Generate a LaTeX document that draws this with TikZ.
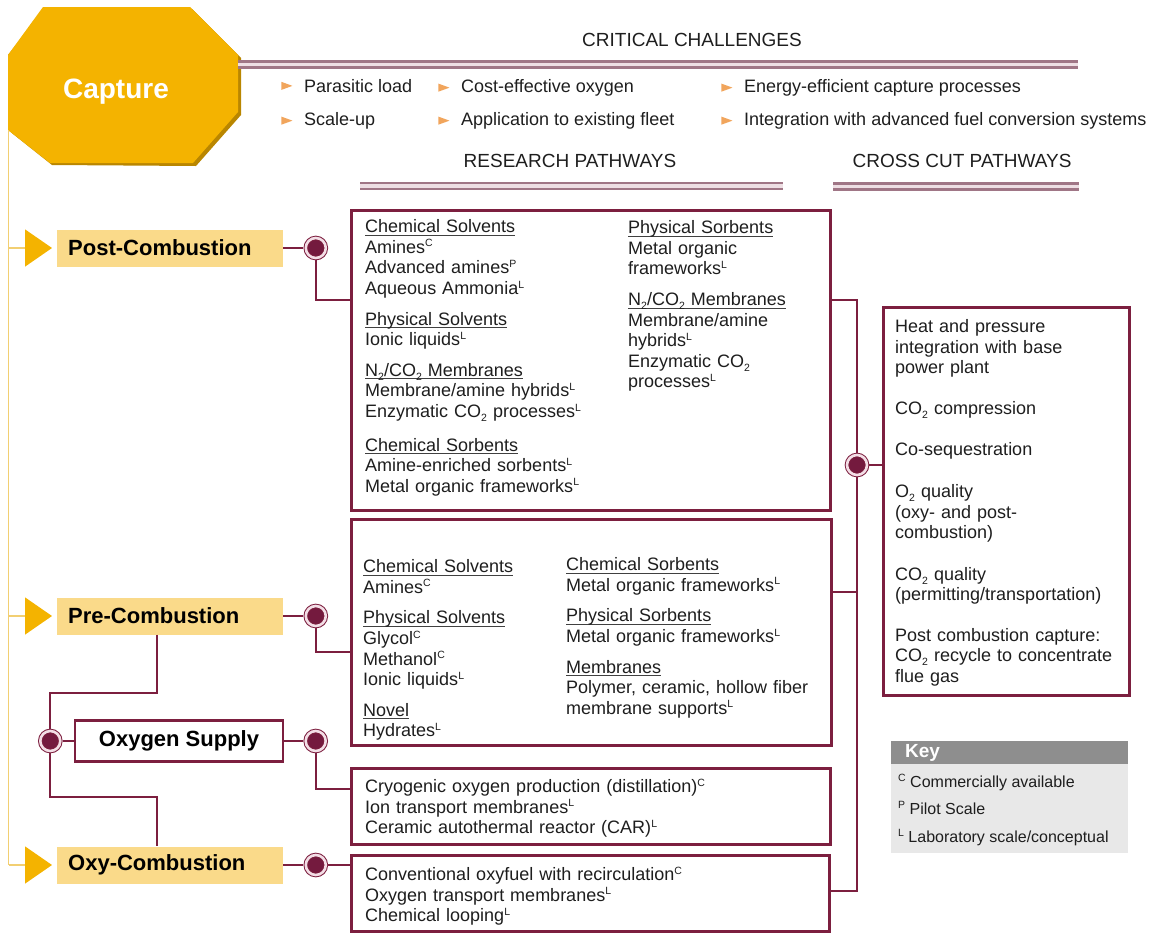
\documentclass[tikz,border=0pt]{standalone}
\usepackage{fontspec}
\setmainfont{Liberation Sans}
\usetikzlibrary{positioning,shapes.geometric,arrows.meta}

\definecolor{capgold}{HTML}{F4B300}
\definecolor{capshadow}{HTML}{B98600}
\definecolor{labelgold}{HTML}{FADA8A}
\definecolor{spinegold}{HTML}{F2CF72}
\definecolor{maroon}{HTML}{7C1F3F}
\definecolor{hubfill}{HTML}{741A3E}
\definecolor{ringpink}{HTML}{F3DEE6}
\definecolor{rulemauve}{HTML}{A07686}
\definecolor{rulepink}{HTML}{EEDFE4}
\definecolor{bulletorange}{HTML}{F1A55C}
\definecolor{keygray}{HTML}{8E8E8E}
\definecolor{keylight}{HTML}{E8E8E8}
\definecolor{ink}{HTML}{1E1E1E}

\newcommand{\bodyfont}{\fontsize{18}{20.6}\selectfont}
\newcommand{\mk}[1]{\raisebox{0.36em}{\fontsize{10.5}{10.5}\selectfont #1}}
\newcommand{\two}{\raisebox{-0.22em}{\fontsize{10.5}{10.5}\selectfont 2}}
\newcommand{\ul}[1]{\leavevmode\setbox0\hbox{#1}\rlap{\color{ink!85}\rule[-3pt]{\wd0}{0.9pt}}\box0}

\begin{document}
\begin{tikzpicture}[x=1pt,y=-1pt,
	hub/.style={circle,fill=hubfill,draw=maroon,line width=1pt,double=ringpink,double distance=2.6pt,minimum size=20pt,inner sep=0pt,outer sep=2.4pt},
	link/.style={draw=maroon,line width=2.2pt},
	pathbox/.style={draw=maroon,line width=2.6pt,fill=white,inner sep=0pt,anchor=north west},
	stage/.style={fill=labelgold,anchor=west,font=\bfseries\fontsize{22}{24}\selectfont,text width=204pt,inner xsep=11pt,inner ysep=0pt,minimum height=37pt,align=left,text=black},
	supply/.style={draw=maroon,line width=2.6pt,fill=white,minimum width=208pt,minimum height=41pt,inner sep=0pt,font=\bfseries\fontsize{22}{24}\selectfont,text=black},
	txtcol/.style={anchor=north west,inner sep=0pt,align=left,font=\bodyfont,text=ink},
	heading/.style={font=\fontsize{19}{21}\selectfont,text=ink,inner sep=0pt},
	chitem/.style={anchor=base west,inner sep=0pt,font=\bodyfont,text=ink},
	chbullet/.style={isosceles triangle,isosceles triangle stretches,minimum width=8pt,minimum height=11pt,inner sep=0pt,fill=bulletorange},
	rule/.style={draw=rulemauve,line width=2.4pt,double=rulepink,double distance=3.6pt},
	spine/.style={draw=spinegold,line width=1.5pt},
	feed/.style={spine,-{Triangle[length=27pt,width=37pt,color=capgold]},shorten >=5pt},
	keyhead/.style={anchor=north west,fill=keygray,minimum width=237pt,minimum height=23pt,text width=209pt,inner xsep=14pt,inner ysep=0pt,align=left,text=white,font=\bfseries\fontsize{19}{19}\selectfont},
	keybody/.style={anchor=north west,fill=keylight,minimum width=237pt,minimum height=89pt,inner sep=0pt},
	keyitem/.style={anchor=base west,inner sep=0pt,font=\fontsize{16}{18}\selectfont,text=ink}]
	\useasboundingbox (0,0) rectangle (1151,932);

	\fill[capshadow] (45,8) -- (192,9) -- (241,58) -- (241,115) -- (196,166) -- (52,165) -- (8,130) -- (8,55) -- cycle;
	\fill[capgold] (43,7) -- (190,7) -- (238,55) -- (238,112) -- (193,163) -- (50,163) -- (8,130) -- (8,55) -- cycle;
	\node[anchor=base,text=white,font=\bfseries\fontsize{28}{30}\selectfont] (capture) at (116,98) {Capture};

	\node[heading] (crit) at (692,40) {CRITICAL CHALLENGES};
	\node[heading] (research) at (570,161) {RESEARCH PATHWAYS};
	\node[heading] (crosscut) at (962,161) {CROSS CUT PATHWAYS};
	\draw[rule] (238,64.5) -- (1078,64.5);
	\draw[rule] (360,186) -- (783,186);
	\draw[rule] (833,186.5) -- (1079,186.5);

	\node[chitem] (parasitic) at (304,92.3) {Parasitic load};
	\node[chitem] (costoxy) at (461,92.3) {Cost-effective oxygen};
	\node[chitem] (energy) at (744,92.3) {Energy-efficient capture processes};
	\node[chitem] (scaleup) at (304,125.3) {Scale-up};
	\node[chitem] (fleet) at (461,125.3) {Application to existing fleet};
	\node[chitem] (integration) at (744,125.3) {Integration with advanced fuel conversion systems};
	\foreach \c in {parasitic,costoxy,energy,scaleup,fleet,integration}
		\node[chbullet,left=11pt of \c] (b\c) {};

	\node[stage] (post) at (57,248) {Post-Combustion};
	\node[stage] (pre) at (57,616) {Pre-Combustion};
	\node[stage] (oxy) at (57,865) {Oxy-Combustion};
	\node[supply] (oxs) at (179,741) {Oxygen Supply};

	\coordinate (spineTop) at (8.5,130);
	\coordinate (spinePost) at (8.5,248);
	\coordinate (spinePre) at (8.5,616);
	\coordinate (spineOxy) at (8.5,865);
	\draw[spine] (spineTop) -- (spineOxy);
	\draw[feed] (spinePost) -- (post);
	\draw[feed] (spinePre) -- (pre);
	\draw[feed] (spineOxy) -- (oxy);

	\node[hub,right=20pt of post] (cpost) {};
	\node[hub,right=20pt of pre] (cpre) {};
	\node[hub,right=19pt of oxs] (coxs) {};
	\node[hub,right=20pt of oxy] (coxy) {};
	\node[hub,left=11pt of oxs] (cleft) {};
	\node[hub] (cright) at (857,465) {};

	\node[pathbox,minimum width=479pt,minimum height=300pt] (bpost) at (350,209) {};
	\node[pathbox,minimum width=480pt,minimum height=226pt] (bpre) at (350,518) {};
	\node[pathbox,minimum width=479pt,minimum height=76pt] (bsupply) at (350,767) {};
	\node[pathbox,minimum width=478pt,minimum height=76pt] (boxy) at (350,854) {};
	\node[pathbox,minimum width=246pt,minimum height=388pt] (bcross) at (882,306) {};

	\node[txtcol,text width=255pt] (postL) at (365,219.5) {\ul{Chemical Solvents}\\
		Amines\mk{C}\\
		Advanced amines\mk{P}\\
		Aqueous Ammonia\mk{L}\\[10pt]
		\ul{Physical Solvents}\\
		Ionic liquids\mk{L}\\[10pt]
		\ul{N\two/CO\two{} Membranes}\\
		Membrane/amine hybrids\mk{L}\\
		Enzymatic CO\two{} processes\mk{L}\\[13pt]
		\ul{Chemical Sorbents}\\
		Amine-enriched sorbents\mk{L}\\
		Metal organic frameworks\mk{L}};
	\node[txtcol,text width=190pt] (postR) at (628,220.5) {\ul{Physical Sorbents}\\
		Metal organic\\
		frameworks\mk{L}\\[10pt]
		\ul{N\two/CO\two{} Membranes}\\
		Membrane/amine\\
		hybrids\mk{L}\\
		Enzymatic CO\two\\
		processes\mk{L}};
	\node[txtcol,text width=195pt] (preL) at (363,559.5) {\ul{Chemical Solvents}\\
		Amines\mk{C}\\[10pt]
		\ul{Physical Solvents}\\
		Glycol\mk{C}\\
		Methanol\mk{C}\\
		Ionic liquids\mk{L}\\[10pt]
		\ul{Novel}\\
		Hydrates\mk{L}};
	\node[txtcol,text width=255pt] (preR) at (566,557.5) {\ul{Chemical Sorbents}\\
		Metal organic frameworks\mk{L}\\[10pt]
		\ul{Physical Sorbents}\\
		Metal organic frameworks\mk{L}\\[10pt]
		\ul{Membranes}\\
		Polymer, ceramic, hollow fiber\\
		membrane supports\mk{L}};
	\node[txtcol,text width=440pt] (supplyT) at (365,778.5) {Cryogenic oxygen production (distillation)\mk{C}\\
		Ion transport membranes\mk{L}\\
		Ceramic autothermal reactor (CAR)\mk{L}};
	\node[txtcol,text width=440pt] (oxyT) at (365,866.5) {Conventional oxyfuel with recirculation\mk{C}\\
		Oxygen transport membranes\mk{L}\\
		Chemical looping\mk{L}};
	\node[txtcol,text width=228pt] (crossT) at (895,319.5) {Heat and pressure\\
		integration with base\\
		power plant\\[20.4pt]
		CO\two{} compression\\[20.4pt]
		Co-sequestration\\[21pt]
		O\two{} quality\\
		(oxy- and post-\\
		combustion)\\[21pt]
		CO\two{} quality\\
		(permitting/transportation)\\[19.5pt]
		Post combustion capture:\\
		CO\two{} recycle to concentrate\\
		flue gas};

	\coordinate (postIn) at (350,300);
	\coordinate (preIn) at (350,652);
	\coordinate (supplyIn) at (350,789);
	\draw[link] (post) -- (cpost);
	\draw[link] (cpost) |- (postIn);
	\draw[link] (pre) -- (cpre);
	\draw[link] (cpre) |- (preIn);
	\draw[link] (oxs) -- (coxs);
	\draw[link] (coxs) |- (supplyIn);
	\draw[link] (oxy) -- (coxy);
	\draw[link] (coxy) -- (coxy -| boxy.west);

	\coordinate (preFoot) at ([xshift=100pt]pre.south west);
	\coordinate (oxyHead) at ([xshift=100pt]oxy.north west);
	\draw[link] (preFoot) -- ++(0,58) -| (cleft);
	\draw[link] (cleft) -- (oxs);
	\draw[link] (cleft) |- ([yshift=49pt]oxyHead) -- (oxyHead);

	\coordinate (busTop) at (857,300);
	\coordinate (busPre) at (857,592);
	\coordinate (busBot) at (857,891);
	\draw[link] (bpost.east |- busTop) -- (busTop) -- (cright);
	\draw[link] (cright) -- (busBot) -- (boxy.east |- busBot);
	\draw[link] (bpre.east |- busPre) -- (busPre);
	\draw[link] (cright) -- (cright -| bcross.west);

	\node[keyhead] (keytop) at (891,741) {Key};
	\node[keybody] (keybox) at (891,764) {};
	\node[keyitem] (keyC) at (898,787.6) {\mk{C} Commercially available};
	\node[keyitem] (keyP) at (898,814.6) {\mk{P} Pilot Scale};
	\node[keyitem] (keyL) at (898,842.6) {\mk{L} Laboratory scale/conceptual};
\end{tikzpicture}
\end{document}
